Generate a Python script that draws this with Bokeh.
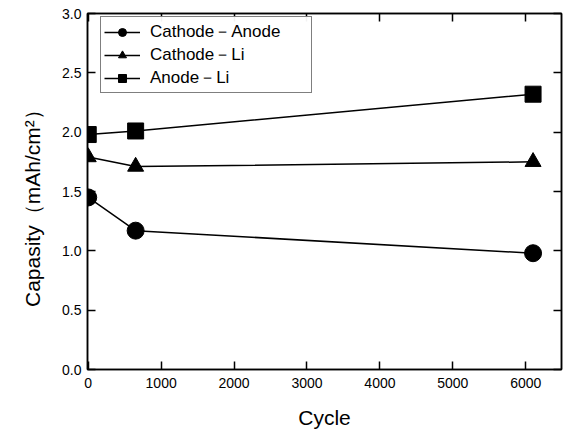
from bokeh.plotting import figure
from bokeh.models import LinearAxis, FixedTicker, Legend, LegendItem, Range1d, NumeralTickFormatter
from bokeh.embed import file_html
from bokeh.resources import INLINE

cycles = [0, 650, 6100]
cathode_anode = [1.45, 1.17, 0.98]
cathode_li = [1.79, 1.71, 1.75]
anode_li = [1.98, 2.01, 2.32]
x_ticks = [0, 1000, 2000, 3000, 4000, 5000, 6000]
y_ticks = [0.0, 0.5, 1.0, 1.5, 2.0, 2.5, 3.0]

FONT = "Liberation Sans"

p = figure(width=563, height=440, output_backend="svg", toolbar_location=None,
           x_range=Range1d(-10, 6490), y_range=Range1d(0, 3.0),
           min_border_left=87, min_border_right=2, min_border_top=13, min_border_bottom=71)
p.grid.visible = False
p.outline_line_color = "black"
p.outline_line_width = 1.5
p.background_fill_color = "white"
p.border_fill_color = "white"

for ax in [p.xaxis[0], p.yaxis[0]]:
    ax.major_tick_in = 8
    ax.major_tick_out = 0
    ax.minor_tick_line_color = None
    ax.axis_line_width = 1.5
    ax.major_tick_line_width = 1.5
    ax.major_label_text_font = FONT
    ax.major_label_text_font_size = "14px"
    ax.major_label_text_color = "black"
    ax.axis_label_text_font = FONT
    ax.axis_label_text_font_style = "normal"
    ax.axis_label_text_font_size = "21px"
    ax.axis_label_text_color = "black"

p.xaxis[0].ticker = FixedTicker(ticks=x_ticks)
p.yaxis[0].ticker = FixedTicker(ticks=y_ticks)
p.yaxis[0].formatter = NumeralTickFormatter(format="0.0")
p.xaxis[0].major_label_standoff = 8
p.yaxis[0].major_label_standoff = 6
p.xaxis[0].axis_label = "Cycle"
p.xaxis[0].axis_label_standoff = 15
p.yaxis[0].axis_label = "Capasity（mAh/cm²）\u00a0\u00a0\u00a0\u00a0"
p.yaxis[0].axis_label_standoff = 15

top = LinearAxis(ticker=FixedTicker(ticks=x_ticks), major_label_text_font_size="0px",
                 major_tick_in=8, major_tick_out=0, minor_tick_line_color=None,
                 axis_line_width=1.5, major_tick_line_width=1.5, major_label_standoff=0)
right = LinearAxis(ticker=FixedTicker(ticks=y_ticks), major_label_text_font_size="0px",
                   major_tick_in=8, major_tick_out=0, minor_tick_line_color=None,
                   axis_line_width=1.5, major_tick_line_width=1.5, major_label_standoff=0)
p.add_layout(top, "above")
p.add_layout(right, "right")

l1 = p.line(cycles, cathode_anode, line_color="black", line_width=1.5)
m1 = p.scatter(cycles, cathode_anode, marker="circle", size=17, fill_color="black", line_color="black")
l2 = p.line(cycles, cathode_li, line_color="black", line_width=1.5)
m2 = p.scatter(cycles, cathode_li, marker="triangle", size=16, fill_color="black", line_color="black")
l3 = p.line(cycles, anode_li, line_color="black", line_width=1.5)
m3 = p.scatter(cycles, anode_li, marker="square", size=16, fill_color="black", line_color="black")

legend = Legend(items=[
    LegendItem(label="Cathode－Anode", renderers=[l1, m1]),
    LegendItem(label="Cathode－Li", renderers=[l2, m2]),
    LegendItem(label="Anode－Li", renderers=[l3, m3]),
], location=(13, 276))
legend.label_text_font = FONT
legend.label_text_font_size = "17px"
legend.label_text_color = "black"
legend.border_line_color = "black"
legend.border_line_width = 1.5
legend.margin = 0
legend.padding = 3
legend.spacing = 0
legend.glyph_width = 36
legend.glyph_height = 20
legend.label_height = 20
legend.label_width = 158
legend.label_standoff = 10
p.add_layout(legend)

open("out.html", "w").write(file_html(p, INLINE))
